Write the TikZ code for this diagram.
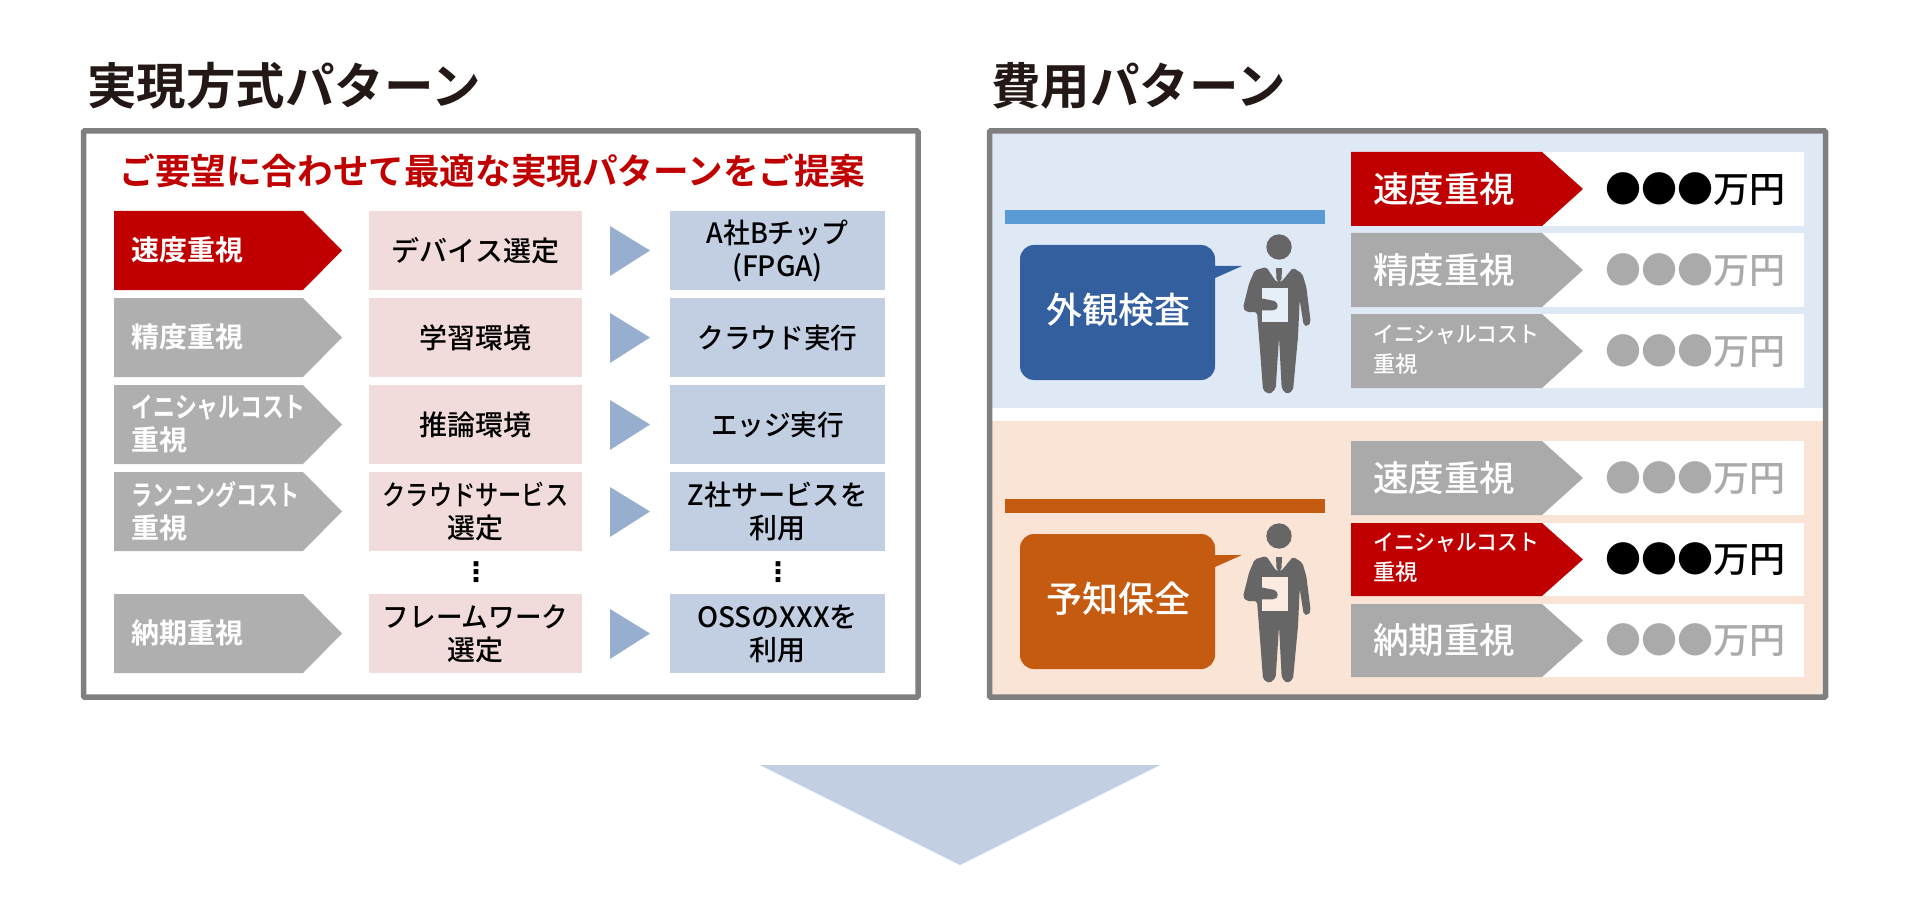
\documentclass[tikz,border=0pt]{standalone}
\usepackage{fontspec}
\setmainfont{Noto Sans CJK JP}
\newfontfamily\cjk[BoldFont={Noto Sans CJK JP Bold}]{Noto Sans CJK JP Medium}
\newfontfamily\dejavu{DejaVu Sans}
\newcommand{\tight}[2]{\scalebox{#1}[1]{#2}}
\definecolor{titleink}{HTML}{231815}
\definecolor{redfill}{HTML}{C00000}
\definecolor{greyfill}{HTML}{AFAFAF}
\definecolor{greytag}{HTML}{AAAAAA}
\definecolor{framegrey}{HTML}{7F7F7F}
\definecolor{pinkfill}{HTML}{F2DCDB}
\definecolor{bluefill}{HTML}{C2CFE3}
\definecolor{arrowfill}{HTML}{98AECF}
\definecolor{bluepanel}{HTML}{DEE9F5}
\definecolor{bluepaper}{HTML}{E6EEF8}
\definecolor{peachpanel}{HTML}{FAE4D6}
\definecolor{peachpaper}{HTML}{FCEBE0}
\definecolor{blueball}{HTML}{335F9F}
\definecolor{bluebar}{HTML}{5B9BD5}
\definecolor{orangeball}{HTML}{C55A11}
\definecolor{persongrey}{HTML}{666666}
\tikzset{
  every picture/.style={line width=0.75pt},
  title/.style={font=\cjk\bfseries\fontsize{49.5}{50}\selectfont, text=titleink, anchor=west, inner sep=0pt},
  lefttag/.style={font=\cjk\bfseries\fontsize{28}{33}\selectfont, text=white, anchor=west, align=left, inner sep=0pt},
  righttag/.style={font=\cjk\fontsize{35.5}{36}\selectfont, text=white, anchor=west, align=left, inner sep=0pt},
  smalltag/.style={font=\cjk\fontsize{22.3}{30}\selectfont, text=white, anchor=west, align=left, inner sep=0pt},
  pinkbox/.style={fill=pinkfill, minimum width=213pt, minimum height=79pt, inner sep=0pt, align=center, font=\cjk\fontsize{28}{33}\selectfont},
  bluebox/.style={fill=bluefill, minimum width=215pt, minimum height=79pt, inner sep=0pt, align=center, font=\cjk\fontsize{28}{33}\selectfont},
  pricebox/.style={font=\cjk\fontsize{36}{36}\selectfont, anchor=east, inner sep=0pt},
  speech/.style={font=\cjk\fontsize{36}{36}\selectfont, text=white, inner sep=0pt},
  vdots/.style={font=\dejavu\bfseries\fontsize{27}{27}\selectfont, inner sep=0pt},
  personfig/.pic={
    \fill[persongrey] (0,0) circle (12.7);
    \fill[persongrey, rounded corners=2pt] (-12.7,20) -- (-24.3,23.3) -- (-30,36.7) -- (-36,60.7) -- (-32.7,65) -- (-22,65) -- (-18.7,106.7) -- (-16,143.3) -- (-9.3,147.3) -- (-3.3,141.7) -- (0,90) -- (2.7,141.7) -- (8,147.3) -- (14,143.3) -- (19,90) -- (20.7,53) -- (24.7,78.3) -- (29,79.3) -- (31.7,75) -- (27.3,40) -- (23.3,26.7) -- (14,20.7) -- (2.3,35) -- (-2.7,35) -- cycle;
    \fill[persongrey] (-3,21) -- (3,21) -- (2.5,32) -- (0,36) -- (-2.5,32) -- cycle;
    \fill[pic actions] (-16.7,41) rectangle (9,75);
    \fill[persongrey, rounded corners=2pt] (-21,50.7) -- (-2.7,54.3) -- (-0.7,60.7) -- (-4.3,63.3) -- (-32.7,63.3) -- (-30,50) -- cycle;
  }
}

\begin{document}
\begin{tikzpicture}[x=1pt,y=-1pt]
    \useasboundingbox (0,0) rectangle (1920,920);

    % 見出し
    \node[title] (titleleft) at (87,86) {実現方式パターン};
    \node[title] (titleright) at (991,86) {費用パターン};

    % 左の枠
    \draw[framegrey, line width=5.5pt, rounded corners=1pt] (83.5,131) rectangle (918,697);
    \node[font=\cjk\bfseries\fontsize{35.6}{36}\selectfont, text=redfill, inner sep=0pt] (lead) at (492.5,171) {ご要望に合わせて最適な実現パターンをご提案};

    % 左の列
    \fill[redfill] (114,211) -- (303,211) -- (342,250.5) -- (303,290) -- (114,290) -- cycle;
    \fill[greyfill] (114,298) -- (303,298) -- (342,337.5) -- (303,377) -- (114,377) -- cycle;
    \fill[greyfill] (114,385) -- (303,385) -- (342,424.5) -- (303,464) -- (114,464) -- cycle;
    \fill[greyfill] (114,472) -- (303,472) -- (342,511.5) -- (303,551) -- (114,551) -- cycle;
    \fill[greyfill] (114,594) -- (303,594) -- (342,633.5) -- (303,673) -- (114,673) -- cycle;
    \node[lefttag] (speedleft) at (131,250) {速度重視};
    \node[lefttag] (accuracyleft) at (131,337) {精度重視};
    \node[lefttag] (initialleft) at (131,424) {\tight{0.78}{イニシャルコスト}\\重視};
    \node[lefttag] (runningleft) at (131,511) {\tight{0.75}{ランニングコスト}\\重視};
    \node[lefttag] (deliveryleft) at (131,633) {納期重視};

    % 中央の列
    \node[pinkbox] (device) at (475.5,250.5) {デバイス選定};
    \node[pinkbox] (training) at (475.5,337.5) {学習環境};
    \node[pinkbox] (inference) at (475.5,424.5) {推論環境};
    \node[pinkbox] (service) at (475.5,511.5) {\tight{0.83}{クラウドサービス}\\選定};
    \node[pinkbox] (framework) at (475.5,633.5) {\tight{0.95}{フレームワーク}\\選定};
    \node[vdots] (dotsmid) at (476,572) {⋮};

    % 三角
    \fill[arrowfill] (610,226) -- (650,250.5) -- (610,276) -- cycle;
    \fill[arrowfill] (610,313) -- (650,337.5) -- (610,363) -- cycle;
    \fill[arrowfill] (610,400) -- (650,424.5) -- (610,450) -- cycle;
    \fill[arrowfill] (610,487) -- (650,511.5) -- (610,537) -- cycle;
    \fill[arrowfill] (610,609) -- (650,633.5) -- (610,659) -- cycle;

    % 右の列
    \node[bluebox] (chip) at (777.5,250.5) {\tight{0.96}{A社Bチップ}\\(FPGA)};
    \node[bluebox] (cloud) at (777.5,337.5) {\tight{0.95}{クラウド実行}};
    \node[bluebox] (edge) at (777.5,424.5) {\tight{0.95}{エッジ実行}};
    \node[bluebox] (zservice) at (777.5,511.5) {\tight{0.97}{Z社サービスを}\\利用};
    \node[bluebox] (oss) at (777.5,633.5) {OSSのXXXを\\利用};
    \node[vdots] (dotsright) at (778,572) {⋮};

    % 右の枠
    \fill[bluepanel] (990,131) rectangle (1824,408);
    \fill[peachpanel] (990,421) rectangle (1824,697);
    \draw[framegrey, line width=5.5pt, rounded corners=1pt] (989.5,131) rectangle (1825.5,697);

    % 外観検査
    \fill[bluebar] (1005,210) rectangle (1325,224);
    \fill[blueball] (1215,266) -- (1242,266) -- (1215,278) -- cycle;
    \fill[blueball, rounded corners=14pt] (1020,245) rectangle (1215,380);
    \node[speech] (inspection) at (1118,310) {外観検査};
    \pic[fill=bluepaper] at (1279,247) {personfig};
    \fill[white] (1351,152) rectangle (1804,226);
    \fill[white] (1351,233) rectangle (1804,307);
    \fill[white] (1351,314) rectangle (1804,388);
    \fill[redfill] (1351,152) -- (1542,152) -- (1583,189) -- (1542,226) -- (1351,226) -- cycle;
    \fill[greytag] (1351,233) -- (1542,233) -- (1583,270) -- (1542,307) -- (1351,307) -- cycle;
    \fill[greytag] (1351,314) -- (1542,314) -- (1583,351) -- (1542,388) -- (1351,388) -- cycle;
    \node[righttag] (speedup) at (1373,189) {速度重視};
    \node[righttag] (accuracyup) at (1373,270) {精度重視};
    \node[smalltag] (initialup) at (1373,350) {\tight{0.93}{イニシャルコスト}\\重視};
    \node[pricebox] (priceupa) at (1785.5,189) {●●●万円};
    \node[pricebox, text=greytag] (priceupb) at (1785.5,270) {●●●万円};
    \node[pricebox, text=greytag] (priceupc) at (1785.5,351) {●●●万円};

    % 予知保全
    \fill[orangeball] (1005,499) rectangle (1325,513);
    \fill[orangeball] (1215,555) -- (1242,555) -- (1215,567) -- cycle;
    \fill[orangeball, rounded corners=14pt] (1020,534) rectangle (1215,669);
    \node[speech] (prediction) at (1118,599) {予知保全};
    \pic[fill=peachpaper] at (1279,536) {personfig};
    \fill[white] (1351,441) rectangle (1804,515);
    \fill[white] (1351,523) rectangle (1804,596);
    \fill[white] (1351,604) rectangle (1804,677);
    \fill[greytag] (1351,441) -- (1542,441) -- (1583,478) -- (1542,515) -- (1351,515) -- cycle;
    \fill[redfill] (1351,523) -- (1542,523) -- (1583,559.5) -- (1542,596) -- (1351,596) -- cycle;
    \fill[greytag] (1351,604) -- (1542,604) -- (1583,640.5) -- (1542,677) -- (1351,677) -- cycle;
    \node[righttag] (speeddown) at (1373,478) {速度重視};
    \node[smalltag] (initialdown) at (1373,558) {\tight{0.93}{イニシャルコスト}\\重視};
    \node[righttag] (deliverydown) at (1373,640) {納期重視};
    \node[pricebox, text=greytag] (pricedowna) at (1785.5,478) {●●●万円};
    \node[pricebox] (pricedownb) at (1785.5,559) {●●●万円};
    \node[pricebox, text=greytag] (pricedownc) at (1785.5,640) {●●●万円};

    % 下向き三角
    \fill[bluefill] (760,765) -- (1160,765) -- (960,865) -- cycle;
\end{tikzpicture}
\end{document}
